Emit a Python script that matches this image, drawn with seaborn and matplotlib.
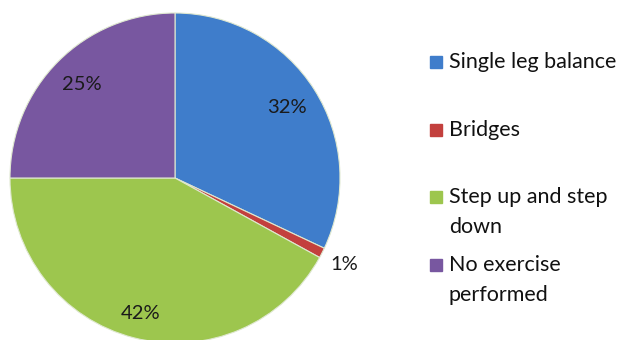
import matplotlib
matplotlib.use("Agg")
import matplotlib.pyplot as plt
import seaborn as sns
import numpy as np
from matplotlib.lines import Line2D

categories = ["Single leg balance", "Bridges", "Step up and step\ndown", "No exercise\nperformed"]
values = [32, 1, 42, 25]
colors = ["#3F7DCB", "#C3403D", "#9DC64E", "#7857A0"]

sns.set_theme(style="white")
plt.rcParams['font.family'] = ['Lato', 'DejaVu Sans']

fig = plt.figure(figsize=(6.2, 3.4), dpi=100)
fig.patch.set_facecolor("white")
W, H = 620, 340
cx, cy, R = 175, 178, 165
ax = fig.add_axes([(cx - R) / W, (H - cy - R) / H, 2 * R / W, 2 * R / H])
wedges, texts = ax.pie(values, colors=colors, startangle=90, counterclock=False,
                       radius=1, wedgeprops=dict(edgecolor="#dfe8d0", linewidth=0.8))
ax.set_xlim(-1, 1)
ax.set_ylim(-1, 1)
ax.set_aspect("equal")
ax.axis("off")

ang = 90.0
label_r = [0.8, 1.15, 0.85, 0.8]
for v, r in zip(values, label_r):
    mid = ang - v * 3.6 / 2
    ang -= v * 3.6
    x = r * np.cos(np.radians(mid))
    y = r * np.sin(np.radians(mid))
    ax.text(x, y, f"{v}%", ha="center", va="center", fontsize=14.5, color="#1a1a1a",
            clip_on=False)

ys = [62, 130, 197, 265]
for lab, col, y in zip(categories, colors, ys):
    fig.add_artist(Line2D([436 / W], [1 - y / H], marker="s", markersize=8.3,
                          markerfacecolor=col, markeredgecolor=col, transform=fig.transFigure))
    fig.text(449 / W, 1 - (y - 10) / H, lab, ha="left", va="top", fontsize=15.5,
             color="#111111", linespacing=1.62)

fig.savefig("out.png", dpi=100, facecolor="white")
